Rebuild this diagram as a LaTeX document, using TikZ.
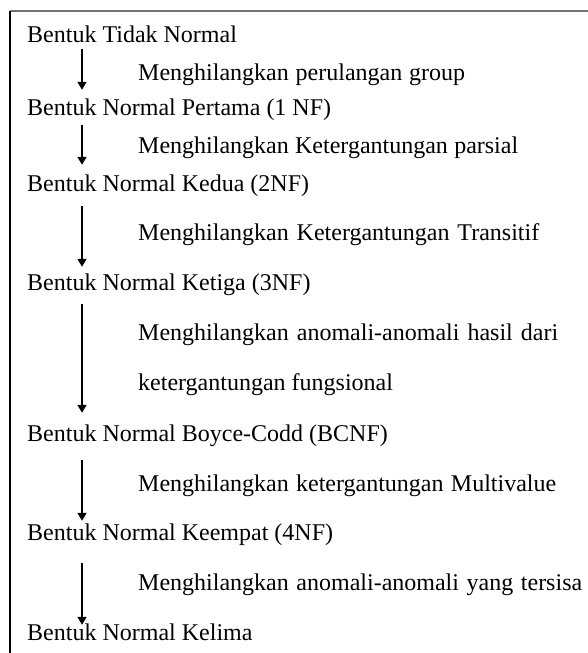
\documentclass[tikz,border=0pt]{standalone}
\usepackage{fontspec}
\setmainfont{Liberation Serif}
\usetikzlibrary{arrows.meta}
\usetikzlibrary{positioning}

\begin{document}
\begin{tikzpicture}[x=1pt,y=-1pt,
  teks/.style={anchor=base west,inner sep=2pt,text height=16pt,text depth=5pt,
    font=\fontsize{24}{28}\selectfont},
  panah/.style={-{Triangle[length=8pt,width=9pt]},line width=1.6pt}]
  \useasboundingbox (0,0) rectangle (588,653);
  \draw[black!55,line width=1.5pt] (10,11) -- (588,11);
  \draw[line width=1.2pt] (10,11) -- (10,653);
  \coordinate (jalur) at (82,0);

  \node[teks] (nf0) at (25,42)  {Bentuk Tidak Normal};
  \node[teks] (nf1) at (25,115) {Bentuk Normal Pertama (1 NF)};
  \node[teks] (nf2) at (25,191) {Bentuk Normal Kedua (2NF)};
  \node[teks] (nf3) at (25,290) {Bentuk Normal Ketiga (3NF)};
  \node[teks] (nf4) at (25,441) {Bentuk Normal Boyce-Codd (BCNF)};
  \node[teks] (nf5) at (25,540) {Bentuk Normal Keempat (4NF)};
  \node[teks] (nf6) at (25,640) {Bentuk Normal Kelima};

  \node[teks] (ket1) at (136,80)  {\makebox[327pt][s]{Menghilangkan perulangan group}};
  \node[teks] (ket2) at (136,153) {\makebox[380pt][s]{Menghilangkan Ketergantungan parsial}};
  \node[teks] (ket3) at (136,240) {\makebox[401pt][s]{Menghilangkan Ketergantungan Transitif}};
  \node[teks] (ket4) at (136,340) {\makebox[420pt][s]{Menghilangkan anomali-anomali hasil dari}};
  \node[teks] (ket4b) at (136,390) {ketergantungan fungsional};
  \node[teks] (ket5) at (136,491) {\makebox[418pt][s]{Menghilangkan ketergantungan Multivalue}};
  \node[teks] (ket6) at (136,590) {\makebox[444pt][s]{Menghilangkan anomali-anomali yang tersisa}};

  \foreach \a/\b/\p/\q in {nf0/nf1/0/7, nf1/nf2/3/8, nf2/nf3/8/5,
                           nf3/nf4/7/10, nf4/nf5/12/1, nf5/nf6/16/-3}
    \draw[panah,shorten <=\p pt,shorten >=\q pt] (\a.south -| jalur) -- (\b.north -| jalur);
\end{tikzpicture}
\end{document}
